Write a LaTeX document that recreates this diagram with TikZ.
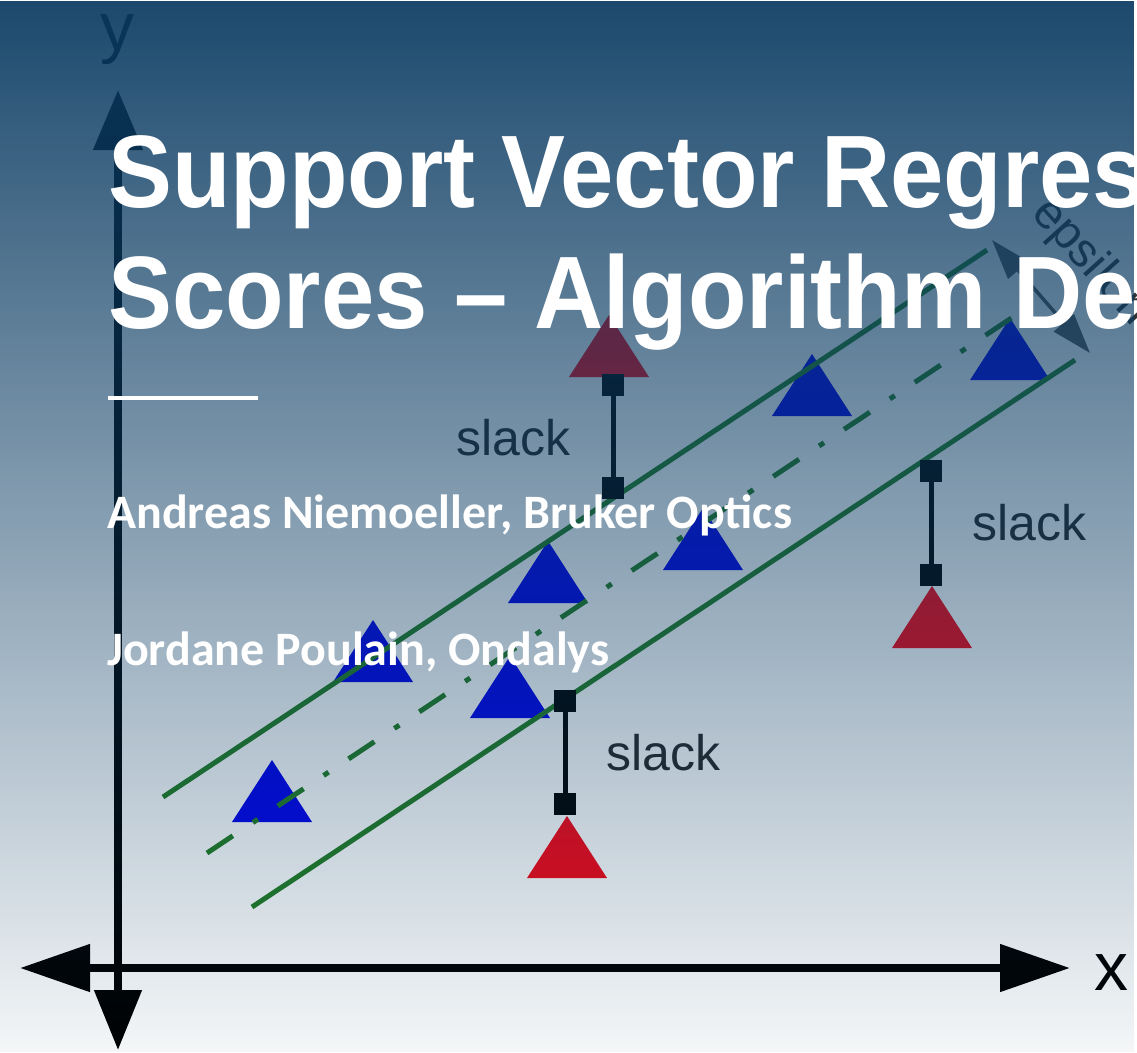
\documentclass[tikz,border=0pt]{standalone}
\usepackage{fontspec}
\setmainfont{Liberation Sans}
\newfontfamily\titlefont{Liberation Sans}[FakeStretch=0.93]
\newfontfamily\namefont{Carlito}
\usetikzlibrary{arrows.meta,fadings}

\definecolor{veilblue}{RGB}{10,59,98}
\definecolor{ptblue}{RGB}{0,0,235}
\definecolor{ptred}{RGB}{245,5,20}
\definecolor{tubegreen}{RGB}{34,124,34}
\definecolor{epsgrey}{RGB}{85,85,85}

% darkening veil: strong at the top, almost clear at the bottom
\tikzfading[name=veil, top color=transparent!7, bottom color=transparent!96]

\tikzset{
  pics/tri/.style={code={\fill[#1] (-40,0) -- (0,-62) -- (40,0) -- cycle;}},
  vaxis/.style={line width=8pt, draw=black,
    arrows={Triangle[length=60pt,width=46pt]-Triangle[length=60pt,width=48pt]}},
  haxis/.style={line width=8pt, draw=black,
    arrows={Triangle[length=70pt,width=46pt]-Triangle[length=70pt,width=46pt]}},
  tube/.style={draw=tubegreen, line width=5pt},
  centreline/.style={draw=tubegreen, line width=5pt,
    dash pattern=on 31pt off 24pt on 6pt off 24pt},
  sq/.style={shape=rectangle, fill=black, minimum size=22pt, inner sep=0pt},
  slackline/.style={draw=black, line width=5pt},
  slacklabel/.style={font=\fontsize{50}{50}\selectfont, text=black!85,
    inner sep=0pt, anchor=base west},
  axlabel/.style={font=\fontsize{68}{68}\selectfont, text=black,
    inner sep=0pt, anchor=base west},
  epsarrow/.style={draw=epsgrey, line width=3.5pt,
    arrows={Triangle[length=40pt,width=26pt]-Triangle[length=40pt,width=26pt]}},
  epslabel/.style={font=\fontsize{48}{48}\selectfont, text=black!80,
    inner sep=0pt, anchor=base west},
  titletext/.style={font=\titlefont\bfseries\fontsize{103}{121}\selectfont,
    text=white, inner sep=0pt, anchor=base west},
  nametext/.style={font=\namefont\bfseries\fontsize{48}{56}\selectfont,
    text=white, inner sep=0pt, anchor=base west},
}

\begin{document}
\begin{tikzpicture}[x=1pt, y=-1pt]
\useasboundingbox (0,0) rectangle (1137,1052);
\clip (0,0) rectangle (1137,1052);
\fill[white] (0,0) rectangle (1137,1052);

% data points
\pic at (272,822) {tri=ptblue};
\pic at (373,682) {tri=ptblue};
\pic at (510,718) {tri=ptblue};
\pic at (548,603) {tri=ptblue};
\pic at (703,570) {tri=ptblue};
\pic at (812,416) {tri=ptblue};
\pic at (1010,380) {tri=ptblue};
\pic at (609,377) {tri=ptred};
\pic at (932,648) {tri=ptred};
\pic at (567,878) {tri=ptred};

% epsilon tube
\coordinate (u0) at (163,797);
\coordinate (u1) at (987,250);
\coordinate (l0) at (252,907);
\coordinate (l1) at (1075,360);
\coordinate (m0) at (207,853);
\coordinate (m1) at (1013,317);
\draw[tube] (u0) -- (u1);
\draw[tube] (l0) -- (l1);
\draw[centreline] (m0) -- (m1);

% tube width marker
\coordinate (e0) at (992,240);
\coordinate (e1) at (1090,353);
\draw[epsarrow] (e0) -- (e1);
\node[epslabel, rotate=-48] (epslab) at (1030,214) {epsilon};

% slack variables
\node[sq] (s1t) at (613,385) {};
\node[sq] (s1b) at (613,488) {};
\node[sq] (s2t) at (931,471) {};
\node[sq] (s2b) at (931,575) {};
\node[sq] (s3t) at (565,701) {};
\node[sq] (s3b) at (565,804) {};
\draw[slackline] (s1t) -- (s1b);
\draw[slackline] (s2t) -- (s2b);
\draw[slackline] (s3t) -- (s3b);
\node[slacklabel] (sl1) at (456,455) {slack};
\node[slacklabel] (sl2) at (972,540) {slack};
\node[slacklabel] (sl3) at (606,770) {slack};

% axes
\coordinate (yb) at (118,1050);
\coordinate (yt) at (118,90);
\coordinate (xl) at (20,968);
\coordinate (xr) at (1070,968);
\draw[vaxis] (yb) -- (yt);
\draw[haxis] (xl) -- (xr);
\node[axlabel] (xlab) at (1094,990) {x};
\node[axlabel] (ylab) at (100,50) {y};

% veil over the figure
\fill[veilblue, path fading=veil] (0,0) rectangle (1137,1052);

% title block
\node[titletext] (title1) at (108,207) {Support Vector Regression};
\node[titletext] (title2) at (108,328) {Scores – Algorithm De};
\coordinate (r0) at (108,398);
\coordinate (r1) at (258,398);
\draw[white, line width=4pt] (r0) -- (r1);
\node[nametext] (auth1) at (107,528) {Andreas Niemoeller, Bruker Optics};
\node[nametext] (auth2) at (107,665) {Jordane Poulain, Ondalys};
\end{tikzpicture}
\end{document}
